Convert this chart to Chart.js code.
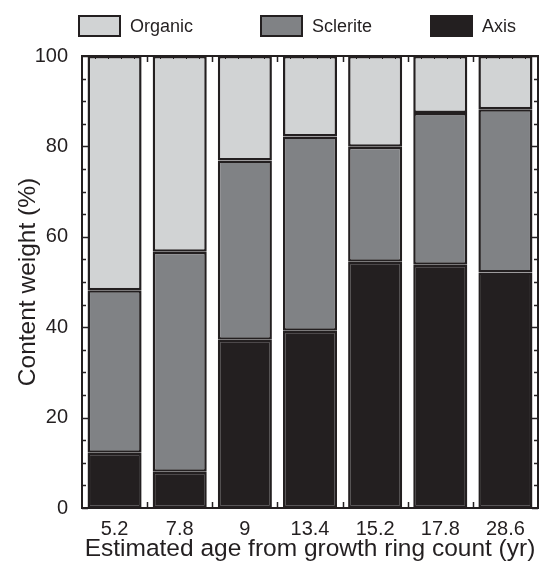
<!DOCTYPE html>
<html>
<head>
<meta charset="utf-8">
<script src="https://cdn.jsdelivr.net/npm/chart.js@4.4.1/dist/chart.umd.min.js"></script>
<style>
  html, body { margin: 0; padding: 0; background: #fff; }
  #chart { display: block; }
</style>
</head>
<body>
<canvas id="chart" width="549" height="564"></canvas>
<script>
const ages = ['5.2', '7.8', '9', '13.4', '15.2', '17.8', '28.6'];
const axisValues = [12.2, 8.0, 37.2, 39.2, 54.5, 53.8, 52.1];
const scleriteValues = [36.0, 48.7, 39.7, 43.0, 25.4, 33.6, 36.1];
const organicValues = [51.8, 43.3, 23.1, 17.8, 20.1, 12.6, 11.8];
const yTicks = [0, 20, 40, 60, 80, 100];

const INK = '#231f20';
const FONT = '"Liberation Sans", Arial, Helvetica, sans-serif';

// frame, inward ticks and the legend are drawn by hand
const framePlugin = {
    id: 'frame',
    afterDatasetsDraw(chart) {
        const { ctx, chartArea: a, scales: { x, y } } = chart;
        ctx.save();
        ctx.strokeStyle = INK;

        // left / right ticks every 5 units
        ctx.lineWidth = 1.5;
        for (let v = 0; v <= 100; v += 5) {
            const py = Math.round(y.getPixelForValue(v)) + 0.5;
            const len = v % 20 === 0 ? 6 : 4;
            ctx.beginPath();
            ctx.moveTo(a.left, py); ctx.lineTo(a.left + len, py);
            ctx.moveTo(a.right, py); ctx.lineTo(a.right - len, py);
            ctx.stroke();
        }

        // category boundaries on bottom and top, small ticks along the top
        const n = ages.length;
        const step = (a.right - a.left) / n;
        for (let i = 1; i < n; i++) {
            const px = Math.round((x.getPixelForValue(i - 1) + x.getPixelForValue(i)) / 2) + 0.5;
            ctx.beginPath();
            ctx.moveTo(px, a.bottom); ctx.lineTo(px, a.bottom - 6);
            ctx.moveTo(px, a.top); ctx.lineTo(px, a.top + 6);
            ctx.stroke();
        }
        ctx.lineWidth = 1;
        for (let i = 0; i < n; i++) {
            for (let k = 1; k < 5; k++) {
                const px = Math.round(a.left + step * (i + k / 5)) + 0.5;
                ctx.beginPath();
                ctx.moveTo(px, a.top); ctx.lineTo(px, a.top + 3);
                ctx.stroke();
            }
        }

        ctx.lineWidth = 2;
        ctx.strokeRect(a.left, a.top, a.right - a.left, a.bottom - a.top);
        ctx.restore();
    },
    afterDraw(chart) {
        const { ctx } = chart;
        const slots = [78, 260, 430];
        const items = chart.data.datasets.slice().reverse();
        ctx.save();
        ctx.font = '18px ' + FONT;
        ctx.textBaseline = 'middle';
        items.forEach((ds, i) => {
            const x0 = slots[i];
            ctx.fillStyle = ds.backgroundColor;
            ctx.fillRect(x0, 15, 43, 22);
            ctx.strokeStyle = INK;
            ctx.lineWidth = 2;
            ctx.strokeRect(x0 + 1, 16, 41, 20);
            ctx.fillStyle = INK;
            ctx.fillText(ds.label, x0 + 52, 27);
        });
        ctx.restore();
    }
};

const barStyle = {
    borderColor: INK,
    borderWidth: 2.5,
    borderSkipped: false,
    barPercentage: 0.83,
    categoryPercentage: 1.0
};

new Chart(document.getElementById('chart'), {
    type: 'bar',
    data: {
        labels: ages,
        datasets: [
            { label: 'Axis', data: axisValues, backgroundColor: INK, ...barStyle },
            { label: 'Sclerite', data: scleriteValues, backgroundColor: '#808285', ...barStyle },
            { label: 'Organic', data: organicValues, backgroundColor: '#d1d3d4', ...barStyle }
        ]
    },
    options: {
        responsive: false,
        animation: false,
        layout: { padding: { top: 56, right: 11, left: 0, bottom: 0 } },
        plugins: {
            legend: { display: false },
            tooltip: { enabled: false }
        },
        scales: {
            x: {
                stacked: true,
                grid: { display: false, drawTicks: false },
                border: { display: false },
                ticks: { color: INK, font: { family: FONT, size: 20 }, padding: 9 },
                title: {
                    display: true,
                    text: 'Estimated age from growth ring count (yr)',
                    color: INK,
                    font: { family: FONT, size: 24.5 },
                    padding: { top: 0, bottom: 0 }
                },
                afterFit: s => { s.height = 56; }
            },
            y: {
                stacked: true,
                min: 0,
                max: 100,
                afterBuildTicks: s => { s.ticks = yTicks.map(v => ({ value: v })); },
                grid: { display: false, drawTicks: false },
                border: { display: false },
                ticks: { color: INK, font: { family: FONT, size: 20 }, padding: 14 },
                title: {
                    display: true,
                    text: 'Content weight (%)',
                    color: INK,
                    font: { family: FONT, size: 24.5 },
                    padding: { top: 14, bottom: 0 }
                },
                afterFit: s => { s.width = 82; }
            }
        }
    },
    plugins: [framePlugin]
});
</script>
</body>
</html>
